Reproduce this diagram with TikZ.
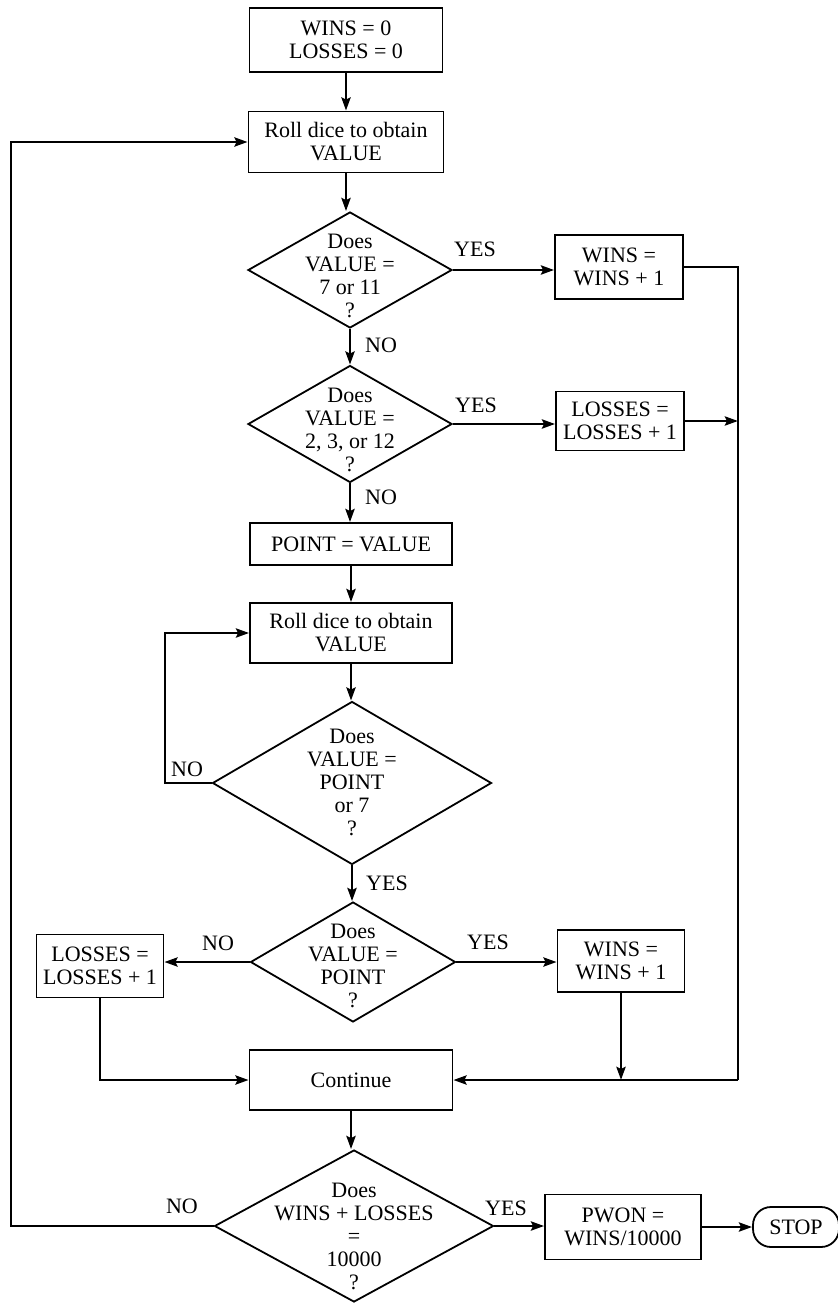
\documentclass[tikz,border=0pt]{standalone}
\usepackage{fontspec}
\setmainfont{Liberation Serif}
\usetikzlibrary{shapes.geometric,arrows.meta}
\begin{document}
\begin{tikzpicture}[x=0.5pt,y=-0.5pt,
  every node/.style={font=\fontsize{11}{11.5}\selectfont},
  sz/.style n args={2}{minimum width=#1*0.5pt,minimum height=#2*0.5pt},
  box/.style={draw,line width=0.9pt,inner sep=0pt,align=center},
  dia/.style={draw,diamond,line width=0.9pt,inner sep=0pt},
  dtext/.style={align=center,inner sep=0pt},
  lbl/.style={inner sep=0pt},
  conn/.style={line width=1.4pt,-{Stealth[length=6.5pt,width=4.5pt,inset=1pt]}},
  plain/.style={line width=1.4pt},
]
\useasboundingbox (0,0) rectangle (837,1310);

% nodes
\node[box,sz={193}{64}] (init) at (346,40) {WINS = 0\\LOSSES = 0};
\node[box,sz={195}{61}] (roll1) at (346,142) {Roll dice to obtain\\VALUE};
\node[dia,sz={204}{116}] (d1) at (350,270) {};
\node[dtext] (d1t) at (350,276) {Does\\VALUE =\\7 or 11\\?};
\node[box,sz={128}{64}] (w1) at (619,267) {WINS =\\WINS + 1};
\node[dia,sz={204}{117}] (d2) at (350,424) {};
\node[dtext] (d2t) at (350,430) {Does\\VALUE =\\2, 3, or 12\\?};
\node[box,sz={128}{59}] (l1) at (620,421) {LOSSES =\\LOSSES + 1};
\node[box,sz={202}{42}] (pt) at (351,544) {POINT = VALUE};
\node[box,sz={202}{60}] (roll2) at (351,633) {Roll dice to obtain\\VALUE};
\node[dia,sz={279}{163}] (d3) at (352,783) {};
\node[dtext] (d3t) at (352,782) {Does\\VALUE =\\POINT\\or 7\\?};
\node[dia,sz={205}{120}] (d4) at (353,962) {};
\node[dtext] (d4t) at (353,966) {Does\\VALUE =\\POINT\\?};
\node[box,sz={127}{63}] (l2) at (100,966) {LOSSES =\\LOSSES + 1};
\node[box,sz={127}{62}] (w2) at (621,961) {WINS =\\WINS + 1};
\node[box,sz={203}{60}] (cont) at (351,1080) {Continue};
\node[dia,sz={279}{152}] (d5) at (354,1226) {};
\node[dtext] (d5t) at (354,1236) {Does\\WINS + LOSSES\\=\\10000\\?};
\node[box,sz={156}{65}] (pwon) at (623,1227) {PWON =\\WINS/10000};
\node[draw,line width=0.9pt,rounded corners=9pt,inner sep=0pt,sz={86}{40}] (stop) at (796,1227) {STOP};

% labels
\node[lbl] (yes1) at (475,249) {YES};
\node[lbl] (no1) at (381,345) {NO};
\node[lbl] (yes2) at (476,405) {YES};
\node[lbl] (no2) at (381,497) {NO};
\node[lbl] (no3) at (187,769) {NO};
\node[lbl] (yes3) at (387,883) {YES};
\node[lbl] (no4) at (218,943) {NO};
\node[lbl] (yes4) at (488,942) {YES};
\node[lbl] (no5) at (182,1206) {NO};
\node[lbl] (yes5) at (506,1208) {YES};

% coordinates
\coordinate (rtop) at (738,267);
\coordinate (rbot) at (738,1080);
\coordinate (lbot) at (11,1226);
\coordinate (lp) at (165,783);

% vertical main flow
\draw[conn] (init.south) -- (init.south |- roll1.north);
\draw[conn] (roll1.south) -- (roll1.south |- d1.north);
\draw[conn] (d1.south) -- (d2.north);
\draw[conn] (d2.south) -- (d2.south |- pt.north);
\draw[conn] (pt.south) -- (roll2.north);
\draw[conn] (roll2.south) -- (roll2.south |- d3.north);
\draw[conn] (d3.south) -- (d3.south |- d4.north);
\draw[conn] (cont.south) -- (cont.south |- d5.north);

% horizontal branches
\draw[conn] (d1.east) -- (d1.east -| w1.west);
\draw[conn] (d2.east) -- (d2.east -| l1.west);
\draw[conn] (d4.west) -- (d4.west -| l2.east);
\draw[conn] (d4.east) -- (d4.east -| w2.west);
\draw[conn] (d5.east) -- (d5.east -| pwon.west);
\draw[conn] (pwon.east) -- (stop.west);

% right collector
\draw[plain] (w1.east) -- (rtop) -- (rbot);
\draw[conn] (rbot) -- (cont.east);
\draw[conn] (l1.east) -- (l1.east -| rtop);
\draw[conn] (w2.south) -- (w2.south |- cont.east);
\draw[conn] (l2.south) |- (cont.west);

% loops
\draw[conn] (d3.west) -- (lp) |- (roll2.west);
\draw[conn] (d5.west) -- (lbot) |- (roll1.west);
\end{tikzpicture}
\end{document}
